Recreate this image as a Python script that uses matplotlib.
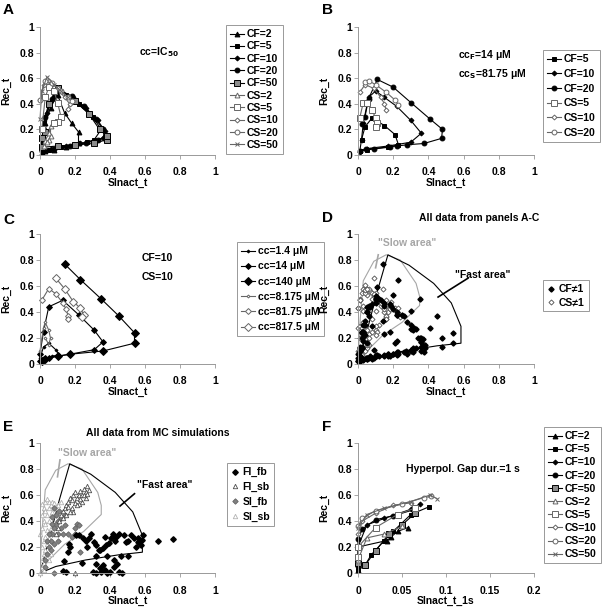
import matplotlib

matplotlib.use('Agg')
import matplotlib.pyplot as plt
from matplotlib.ticker import FuncFormatter

plt.rcParams['font.family'] = ['Liberation Sans', 'DejaVu Sans']
plt.rcParams['font.weight'] = 'bold'

# ---- panel A (cc = IC50) ----
A_CF2_x = [0.01, 0.03, 0.08, 0.15, 0.22, 0.22, 0.18, 0.14, 0.1, 0.06, 0.03, 0.01]
A_CF2_y = [0.02, 0.03, 0.04, 0.06, 0.09, 0.18, 0.25, 0.33, 0.47, 0.37, 0.25, 0.1]
A_CF5_x = [0.01, 0.05, 0.12, 0.2, 0.27, 0.31, 0.35, 0.3, 0.22, 0.15, 0.1, 0.05, 0.02, 0.01]
A_CF5_y = [0.02, 0.04, 0.06, 0.08, 0.1, 0.12, 0.2, 0.3, 0.4, 0.47, 0.5, 0.4, 0.25, 0.1]
A_CF10_x = [0.01, 0.06, 0.15, 0.23, 0.3, 0.36, 0.37, 0.33, 0.26, 0.19, 0.12, 0.08, 0.04, 0.02, 0.01]
A_CF10_y = [0.03, 0.05, 0.07, 0.09, 0.11, 0.13, 0.19, 0.27, 0.37, 0.45, 0.5, 0.46, 0.33, 0.2, 0.06]
A_CF20_x = [0.01, 0.08, 0.17, 0.26, 0.33, 0.37, 0.36, 0.32, 0.25, 0.18, 0.11, 0.07, 0.03, 0.01]
A_CF20_y = [0.03, 0.05, 0.07, 0.09, 0.12, 0.14, 0.2, 0.28, 0.38, 0.46, 0.51, 0.44, 0.3, 0.12]
A_CF50_x = [0.01, 0.1, 0.2, 0.31, 0.38, 0.38, 0.34, 0.28, 0.2, 0.1, 0.05, 0.03, 0.01]
A_CF50_y = [0.06, 0.07, 0.08, 0.09, 0.12, 0.15, 0.2, 0.32, 0.42, 0.52, 0.4, 0.18, 0.13]
A_CS2_x = [0.02, 0.03, 0.05, 0.06, 0.06, 0.05, 0.04]
A_CS2_y = [0.07, 0.11, 0.17, 0.23, 0.15, 0.12, 0.1]
A_CS5_x = [0.01, 0.03, 0.05, 0.08, 0.1, 0.12, 0.1, 0.08]
A_CS5_y = [0.2, 0.45, 0.53, 0.5, 0.41, 0.3, 0.26, 0.25]
A_CS10_x = [0.0, 0.02, 0.05, 0.1, 0.14, 0.17, 0.16]
A_CS10_y = [0.43, 0.55, 0.58, 0.52, 0.45, 0.4, 0.36]
A_CS20_x = [0.0, 0.03, 0.07, 0.12, 0.16, 0.18]
A_CS20_y = [0.43, 0.58, 0.56, 0.5, 0.45, 0.42]
A_CS50_x = [0.0, 0.01, 0.04, 0.08, 0.12, 0.16]
A_CS50_y = [0.28, 0.5, 0.61, 0.55, 0.5, 0.45]

# ---- panel B (ccF=14 uM, ccS=81.75 uM) ----
B_CF5_x = [0.01, 0.05, 0.17, 0.23, 0.21, 0.15, 0.08, 0.04, 0.02, 0.01]
B_CF5_y = [0.03, 0.04, 0.06, 0.08, 0.16, 0.23, 0.29, 0.22, 0.12, 0.03]
B_CF10_x = [0.01, 0.05, 0.17, 0.3, 0.36, 0.3, 0.22, 0.15, 0.1, 0.06, 0.03, 0.02]
B_CF10_y = [0.02, 0.05, 0.07, 0.1, 0.17, 0.27, 0.38, 0.45, 0.5, 0.45, 0.25, 0.12]
B_CF20_x = [0.01, 0.045, 0.09, 0.18, 0.22, 0.28, 0.375, 0.475, 0.48, 0.41, 0.3, 0.2, 0.11, 0.06, 0.04, 0.02]
B_CF20_y = [0.03, 0.05, 0.05, 0.065, 0.07, 0.08, 0.09, 0.13, 0.2, 0.28, 0.41, 0.53, 0.59, 0.44, 0.3, 0.24]
B_CS5_x = [0.01, 0.03, 0.05, 0.08, 0.1, 0.11, 0.1]
B_CS5_y = [0.29, 0.41, 0.41, 0.35, 0.29, 0.25, 0.22]
B_CS10_x = [0.01, 0.04, 0.09, 0.13, 0.15, 0.16]
B_CS10_y = [0.49, 0.55, 0.52, 0.45, 0.4, 0.35]
B_CS20_x = [0.04, 0.06, 0.1, 0.16, 0.21, 0.23]
B_CS20_y = [0.57, 0.58, 0.55, 0.49, 0.43, 0.39]

# ---- panel C (CF=10, CS=10) ----
C_cc1_x = [0.0, 0.03, 0.07, 0.11, 0.09, 0.05, 0.02, 0.0]
C_cc1_y = [0.02, 0.04, 0.06, 0.07, 0.11, 0.16, 0.13, 0.05]
C_cc14_x = [0.0, 0.02, 0.05, 0.1, 0.17, 0.31, 0.36, 0.31, 0.22, 0.13, 0.05, 0.02, 0.0]
C_cc14_y = [0.02, 0.04, 0.05, 0.06, 0.075, 0.11, 0.17, 0.26, 0.38, 0.49, 0.44, 0.25, 0.08]
C_cc140_x = [0.01, 0.03, 0.1, 0.17, 0.36, 0.54, 0.54, 0.45, 0.35, 0.23, 0.14]
C_cc140_y = [0.02, 0.04, 0.06, 0.075, 0.1, 0.16, 0.24, 0.37, 0.5, 0.65, 0.77]
C_cc8_x = [0.0, 0.02, 0.03, 0.05, 0.06, 0.05, 0.03]
C_cc8_y = [0.1, 0.28, 0.32, 0.26, 0.2, 0.15, 0.2]
C_cc81_x = [0.01, 0.05, 0.09, 0.13, 0.15, 0.16, 0.16]
C_cc81_y = [0.49, 0.58, 0.54, 0.47, 0.42, 0.37, 0.35]
C_cc817_x = [0.09, 0.14, 0.19, 0.23, 0.25, 0.24]
C_cc817_y = [0.66, 0.58, 0.48, 0.43, 0.38, 0.36]

# ---- area outlines (panels D and E) ----
FAST_x = [0.0, 0.02, 0.06, 0.11, 0.17, 0.29, 0.43, 0.53, 0.585, 0.585, 0.45, 0.26, 0.09, 0.0]
FAST_y = [0.0, 0.1, 0.3, 0.56, 0.84, 0.76, 0.62, 0.47, 0.29, 0.16, 0.14, 0.1, 0.05, 0.0]
SLOW_x = [0.0, 0.01, 0.03, 0.09, 0.16, 0.24, 0.33, 0.35, 0.35, 0.25, 0.14, 0.05, 0.0]
SLOW_y = [0.0, 0.3, 0.64, 0.79, 0.84, 0.8, 0.62, 0.52, 0.45, 0.32, 0.22, 0.1, 0.0]

# ---- panel E (MC simulations) ----
E_FIfb_x = [0.762, 0.676, 0.587, 0.583, 0.577, 0.558, 0.539, 0.52, 0.501, 0.482, 0.453, 0.434,
            0.415, 0.406, 0.396, 0.377, 0.358, 0.339, 0.32, 0.31, 0.291, 0.282, 0.263, 0.244,
            0.225, 0.206, 0.168, 0.158, 0.139, 0.13, 0.17, 0.24, 0.27, 0.32, 0.34, 0.38, 0.42,
            0.44, 0.46, 0.5, 0.32, 0.34, 0.36, 0.3, 0.32, 0.35, 0.37, 0.38, 0.4, 0.42, 0.45,
            0.47, 0.15, 0.56, 0.55, 0.49, 0.43, 0.37]
E_FIfb_y = [0.259, 0.246, 0.292, 0.254, 0.215, 0.241, 0.267, 0.292, 0.246, 0.292, 0.297, 0.279,
            0.297, 0.267, 0.228, 0.215, 0.19, 0.177, 0.215, 0.241, 0.3, 0.267, 0.246, 0.267,
            0.292, 0.292, 0.221, 0.159, 0.092, 0.015, 0.2, 0.08, 0.2, 0.13, 0.18, 0.13, 0.1,
            0.07, 0.13, 0.13, 0.07, 0.04, 0.06, 0.01, 0.0, 0.01, 0.02, 0.0, 0.01, 0.05, 0.01,
            0.0, 0.01, 0.27, 0.2, 0.24, 0.25, 0.28]
E_FIsb_x = [0.12, 0.13, 0.14, 0.15, 0.16, 0.17, 0.16, 0.18, 0.19, 0.2, 0.21, 0.22, 0.23, 0.24,
            0.25, 0.26, 0.27, 0.28, 0.26, 0.24, 0.22, 0.2, 0.18, 0.19, 0.21, 0.23, 0.25, 0.27,
            0.17, 0.15, 0.13, 0.11, 0.2, 0.1, 0.09]
E_FIsb_y = [0.45, 0.48, 0.5, 0.52, 0.55, 0.58, 0.51, 0.56, 0.6, 0.62, 0.58, 0.6, 0.63, 0.6,
            0.65, 0.62, 0.67, 0.64, 0.58, 0.55, 0.53, 0.54, 0.5, 0.47, 0.52, 0.57, 0.6, 0.61,
            0.47, 0.45, 0.42, 0.4, 0.0, 0.35, 0.3]
E_SIfb_x = [0.03, 0.04, 0.05, 0.06, 0.07, 0.08, 0.09, 0.1, 0.12, 0.14, 0.16, 0.05, 0.07, 0.09,
            0.11, 0.08, 0.1, 0.12, 0.06, 0.08, 0.2, 0.21, 0.22, 0.18, 0.2, 0.23, 0.1, 0.13,
            0.03, 0.08, 0.07, 0.04, 0.14]
E_SIfb_y = [0.1, 0.15, 0.2, 0.25, 0.3, 0.35, 0.38, 0.4, 0.42, 0.37, 0.3, 0.3, 0.38, 0.45,
            0.48, 0.5, 0.3, 0.35, 0.18, 0.22, 0.35, 0.38, 0.37, 0.28, 0.3, 0.16, 0.25, 0.3,
            0.05, 0.0, 0.43, 0.25, 0.45]
E_SIsb_x = [0.0, 0.01, 0.01, 0.02, 0.01, 0.02, 0.0, 0.01, 0.02, 0.01, 0.02, 0.01, 0.03, 0.04,
            0.05, 0.03, 0.04, 0.05, 0.06, 0.07, 0.08, 0.09, 0.03, 0.04, 0.05, 0.06, 0.07, 0.03,
            0.04, 0.05, 0.06, 0.03, 0.04, 0.05, 0.06, 0.02, 0.07, 0.08, 0.1, 0.12, 0.1, 0.02]
E_SIsb_y = [0.0, 0.05, 0.1, 0.15, 0.2, 0.25, 0.3, 0.35, 0.4, 0.45, 0.5, 0.53, 0.55, 0.57,
            0.55, 0.48, 0.45, 0.5, 0.52, 0.55, 0.54, 0.5, 0.38, 0.33, 0.4, 0.45, 0.47, 0.28,
            0.22, 0.27, 0.35, 0.18, 0.12, 0.1, 0.15, 0.08, 0.25, 0.3, 0.52, 0.55, 0.45, 0.02]

# ---- panel F (hyperpol. gap 1 s) ----
F_CF2_x = [0.0, 0.0, 0.0, 0.033, 0.038, 0.045, 0.057]
F_CF2_y = [0.02, 0.08, 0.2, 0.25, 0.28, 0.32, 0.35]
F_CF5_x = [0.0, 0.008, 0.015, 0.03, 0.04, 0.06, 0.081]
F_CF5_y = [0.02, 0.06, 0.14, 0.25, 0.32, 0.45, 0.51]
F_CF10_x = [0.0, 0.0, 0.01, 0.03, 0.06, 0.07]
F_CF10_y = [0.05, 0.2, 0.37, 0.42, 0.49, 0.53]
F_CF20_x = [0.0, 0.0, 0.005, 0.02, 0.04, 0.065]
F_CF20_y = [0.1, 0.26, 0.34, 0.41, 0.44, 0.49]
F_CF50_x = [0.0, 0.008, 0.02, 0.035, 0.05, 0.065]
F_CF50_y = [0.08, 0.06, 0.17, 0.3, 0.37, 0.46]
F_CS2_x = [0.0, 0.01, 0.03, 0.05]
F_CS2_y = [0.1, 0.27, 0.3, 0.36]
F_CS5_x = [0.0, 0.0, 0.02, 0.045, 0.065]
F_CS5_y = [0.12, 0.2, 0.35, 0.45, 0.5]
F_CS10_x = [0.0, 0.005, 0.02, 0.04, 0.06]
F_CS10_y = [0.3, 0.4, 0.46, 0.52, 0.54]
F_CS20_x = [0.0, 0.005, 0.02, 0.05, 0.075, 0.083]
F_CS20_y = [0.36, 0.42, 0.48, 0.53, 0.58, 0.59]
F_CS50_x = [0.0, 0.01, 0.03, 0.06, 0.082, 0.09]
F_CS50_y = [0.35, 0.45, 0.5, 0.55, 0.6, 0.57]

GRAY = '0.4'
FS = 7.5    # tick / label / annotation size
LFS = 7.5   # legend size


def style_axes(ax, xmax=1.0, xstep=0.2, xlabel='SInact_t'):
    ax.set_xlim(0, xmax)
    ax.set_ylim(0, 1)
    n = int(round(xmax / xstep))
    ax.set_xticks([i * xstep for i in range(n + 1)])
    ax.set_yticks([0, 0.2, 0.4, 0.6, 0.8, 1.0])
    fmt = FuncFormatter(lambda v, p: '%g' % round(v, 3))
    ax.xaxis.set_major_formatter(fmt)
    ax.yaxis.set_major_formatter(fmt)
    for s in ('top', 'right'):
        ax.spines[s].set_visible(False)
    for s in ('left', 'bottom'):
        ax.spines[s].set_color('0.6')
        ax.spines[s].set_linewidth(0.7)
    ax.tick_params(direction='out', length=3, width=0.6, color='0.6', labelsize=FS)
    ax.tick_params(axis='x', pad=6)
    ax.tick_params(axis='y', pad=1)
    ax.set_xlabel(xlabel, fontsize=FS, fontweight='bold', labelpad=0)
    ax.set_ylabel('Rec_t', fontsize=FS, fontweight='bold', labelpad=6)


def line(ax, x, y, marker, ms, filled, label, color='k', mec=None):
    if mec is None:
        mec = color
    ax.plot(x, y, color=color, lw=0.8, marker=marker, ms=ms,
            mfc=(mec if filled is True else ('white' if filled is False else filled)),
            mec=mec, mew=0.7, label=label, clip_on=False)


def legend(ax, fig, left, top, **kw):
    opts = dict(loc='upper left', bbox_to_anchor=(left, top), bbox_transform=fig.transFigure,
                borderaxespad=0, fontsize=LFS, fancybox=False, framealpha=1, edgecolor='0.6',
                handlelength=1.3, handletextpad=0.3, borderpad=0.4, labelspacing=0.45)
    opts.update(kw)
    leg = ax.legend(**opts)
    leg.get_frame().set_linewidth(0.7)
    return leg


def cs_series(ax, data, labels, markers, sizes):
    for (x, y), lab, m, s in zip(data, labels, markers, sizes):
        line(ax, x, y, m, s, False, lab, color=GRAY, mec=GRAY)


def areas(ax, slow_txt, fast_txt, slow_ptr, fast_ptr):
    ax.plot(SLOW_x, SLOW_y, color='0.65', lw=0.8)
    ax.plot(FAST_x, FAST_y, color='k', lw=0.8)
    ax.text(slow_txt[0], slow_txt[1], '"Slow area"', color='0.65', ha='center', va='center',
            fontsize=FS, fontweight='bold')
    ax.text(fast_txt[0], fast_txt[1], '"Fast area"', color='k', ha='center', va='center',
            fontsize=FS, fontweight='bold')
    ax.plot(slow_ptr[0], slow_ptr[1], color='0.65', lw=1.2)
    ax.plot(fast_ptr[0], fast_ptr[1], color='k', lw=1.2)


fig = plt.figure(figsize=(6.03, 6.10), dpi=100)
W, H = 603.0, 610.0


def add_axes(l, r, t, b):
    return fig.add_axes([l / W, 1 - b / H, (r - l) / W, (b - t) / H])


ax_a = add_axes(40, 215, 27, 155)
ax_b = add_axes(358, 534, 27, 155)
ax_c = add_axes(40, 215, 234, 364)
ax_d = add_axes(358, 534, 234, 364)
ax_e = add_axes(40, 215, 443, 573)
ax_f = add_axes(358, 534, 443, 573)

cf_markers = ['^', 's', 'D', 'o', 's']
cf_sizes = [3.5, 3.5, 2.5, 3.5, 4.5]
cs_markers = ['^', 's', 'D', 'o', 'x']
cs_sizes = [3.5, 4, 2.5, 3.5, 3.5]

# A
a_cf = [(A_CF2_x, A_CF2_y), (A_CF5_x, A_CF5_y), (A_CF10_x, A_CF10_y),
        (A_CF20_x, A_CF20_y), (A_CF50_x, A_CF50_y)]
a_cs = [(A_CS2_x, A_CS2_y), (A_CS5_x, A_CS5_y), (A_CS10_x, A_CS10_y),
        (A_CS20_x, A_CS20_y), (A_CS50_x, A_CS50_y)]
for i, ((x, y), lab) in enumerate(zip(a_cf, ['CF=2', 'CF=5', 'CF=10', 'CF=20', 'CF=50'])):
    line(ax_a, x, y, cf_markers[i], cf_sizes[i], '0.55' if i == 4 else True, lab)
cs_series(ax_a, a_cs, ['CS=2', 'CS=5', 'CS=10', 'CS=20', 'CS=50'], cs_markers, cs_sizes)
ax_a.text(0.565, 0.8, 'cc=IC$_{\\mathbf{50}}$', fontsize=FS, fontweight='bold', va='center')
style_axes(ax_a)
legend(ax_a, fig, 226 / W, 1 - 25 / H, labelspacing=0.22)

# B
line(ax_b, B_CF5_x, B_CF5_y, 's', 3.5, True, 'CF=5')
line(ax_b, B_CF10_x, B_CF10_y, 'D', 2.5, True, 'CF=10')
line(ax_b, B_CF20_x, B_CF20_y, 'o', 3.5, True, 'CF=20')
cs_series(ax_b, [(B_CS5_x, B_CS5_y), (B_CS10_x, B_CS10_y), (B_CS20_x, B_CS20_y)],
          ['CS=5', 'CS=10', 'CS=20'], ['s', 'D', 'o'], [4, 2.5, 3.5])
ax_b.text(0.57, 0.78, 'cc$_{\\mathbf{F}}$=14 μM', fontsize=FS, fontweight='bold', va='center')
ax_b.text(0.57, 0.63, 'cc$_{\\mathbf{S}}$=81.75 μM', fontsize=FS, fontweight='bold', va='center')
style_axes(ax_b)
legend(ax_b, fig, 543 / W, 1 - 50 / H, labelspacing=0.45)

# C
line(ax_c, C_cc1_x, C_cc1_y, 'D', 1.5, True, 'cc=1.4 μM')
line(ax_c, C_cc14_x, C_cc14_y, 'D', 3, True, 'cc=14 μM')
line(ax_c, C_cc140_x, C_cc140_y, 'D', 4.5, True, 'cc=140 μM')
line(ax_c, C_cc8_x, C_cc8_y, 'D', 1.5, False, 'cc=8.175 μM', color=GRAY, mec=GRAY)
line(ax_c, C_cc81_x, C_cc81_y, 'D', 3, False, 'cc=81.75 μM', color=GRAY, mec=GRAY)
line(ax_c, C_cc817_x, C_cc817_y, 'D', 4.5, False, 'cc=817.5 μM', color=GRAY, mec=GRAY)
ax_c.text(0.58, 0.815, 'CF=10', fontsize=FS, fontweight='bold', va='center')
ax_c.text(0.58, 0.67, 'CS=10', fontsize=FS, fontweight='bold', va='center')
style_axes(ax_c)
legend(ax_c, fig, 237 / W, 1 - 242 / H, labelspacing=0.5)

# D : all CF / CS points of panels A-C
d_cf_x, d_cf_y, d_cs_x, d_cs_y = [], [], [], []
for x, y in a_cf + [(B_CF5_x, B_CF5_y), (B_CF10_x, B_CF10_y), (B_CF20_x, B_CF20_y),
                    (C_cc1_x, C_cc1_y), (C_cc14_x, C_cc14_y), (C_cc140_x, C_cc140_y)]:
    d_cf_x += x
    d_cf_y += y
for x, y in a_cs + [(B_CS5_x, B_CS5_y), (B_CS10_x, B_CS10_y), (B_CS20_x, B_CS20_y),
                    (C_cc8_x, C_cc8_y), (C_cc81_x, C_cc81_y), (C_cc817_x, C_cc817_y)]:
    d_cs_x += x
    d_cs_y += y
areas(ax_d, (0.28, 0.93), (0.71, 0.685), ([0.115, 0.1], [0.84, 0.74]),
      ([0.625, 0.455], [0.66, 0.515]))
ax_d.plot(d_cs_x, d_cs_y, ls='none', marker='D', ms=2.6, mfc='white', mec='0.3', mew=0.6,
          label='CS≠1', clip_on=False)
ax_d.plot(d_cf_x, d_cf_y, ls='none', marker='D', ms=2.6, mfc='k', mec='k', label='CF≠1',
          clip_on=False)
ax_d.text(0.69, 1.12, 'All data from panels A-C', fontsize=FS, fontweight='bold',
          ha='center', va='center')
style_axes(ax_d)
h, l = ax_d.get_legend_handles_labels()
legend(ax_d, fig, 543 / W, 1 - 280 / H, handles=h[::-1][:2], labels=l[::-1][:2],
       handlelength=0.8, labelspacing=0.3)

# E
areas(ax_e, (0.27, 0.92), (0.71, 0.68), ([0.114, 0.1], [0.87, 0.74]),
      ([0.54, 0.457], [0.61, 0.515]))
ax_e.plot(E_SIsb_x, E_SIsb_y, ls='none', marker='^', ms=3.2, mfc='white', mec='0.7',
          mew=0.6, label='SI_sb', clip_on=False)
ax_e.plot(E_SIfb_x, E_SIfb_y, ls='none', marker='D', ms=2.8, mfc='0.5', mec='0.4',
          mew=0.6, label='SI_fb', clip_on=False)
ax_e.plot(E_FIsb_x, E_FIsb_y, ls='none', marker='^', ms=3.2, mfc='white', mec='0.3',
          mew=0.6, label='FI_sb', clip_on=False)
ax_e.plot(E_FIfb_x, E_FIfb_y, ls='none', marker='D', ms=2.8, mfc='k', mec='k',
          label='FI_fb', clip_on=False)
ax_e.text(0.67, 1.077, 'All data from MC simulations', fontsize=FS, fontweight='bold',
          ha='center', va='center')
style_axes(ax_e)
h, l = ax_e.get_legend_handles_labels()
legend(ax_e, fig, 227 / W, 1 - 463 / H, handles=h[::-1][:4], labels=l[::-1][:4],
       handlelength=0.8, labelspacing=0.45)

# F
f_cf = [(F_CF2_x, F_CF2_y), (F_CF5_x, F_CF5_y), (F_CF10_x, F_CF10_y),
        (F_CF20_x, F_CF20_y), (F_CF50_x, F_CF50_y)]
f_cs = [(F_CS2_x, F_CS2_y), (F_CS5_x, F_CS5_y), (F_CS10_x, F_CS10_y),
        (F_CS20_x, F_CS20_y), (F_CS50_x, F_CS50_y)]
for i, ((x, y), lab) in enumerate(zip(f_cf, ['CF=2', 'CF=5', 'CF=10', 'CF=20', 'CF=50'])):
    line(ax_f, x, y, cf_markers[i], cf_sizes[i], '0.55' if i == 4 else True, lab)
cs_series(ax_f, f_cs, ['CS=2', 'CS=5', 'CS=10', 'CS=20', 'CS=50'], cs_markers, cs_sizes)
ax_f.text(0.0545, 0.8, 'Hyperpol. Gap dur.=1 s', fontsize=FS, fontweight='bold', va='center')
style_axes(ax_f, xmax=0.2, xstep=0.05, xlabel='SInact_t_1s')
legend(ax_f, fig, 544 / W, 1 - 427 / H, labelspacing=0.3)

# panel letters
for lab, px, py in [('A', 3, 10), ('B', 322, 10), ('C', 3, 220), ('D', 322, 218),
                    ('E', 3, 427), ('F', 322, 427)]:
    fig.text(px / W, 1 - py / H, lab, fontsize=11, fontweight='bold', va='center')

plt.savefig('out.png', dpi=100)
